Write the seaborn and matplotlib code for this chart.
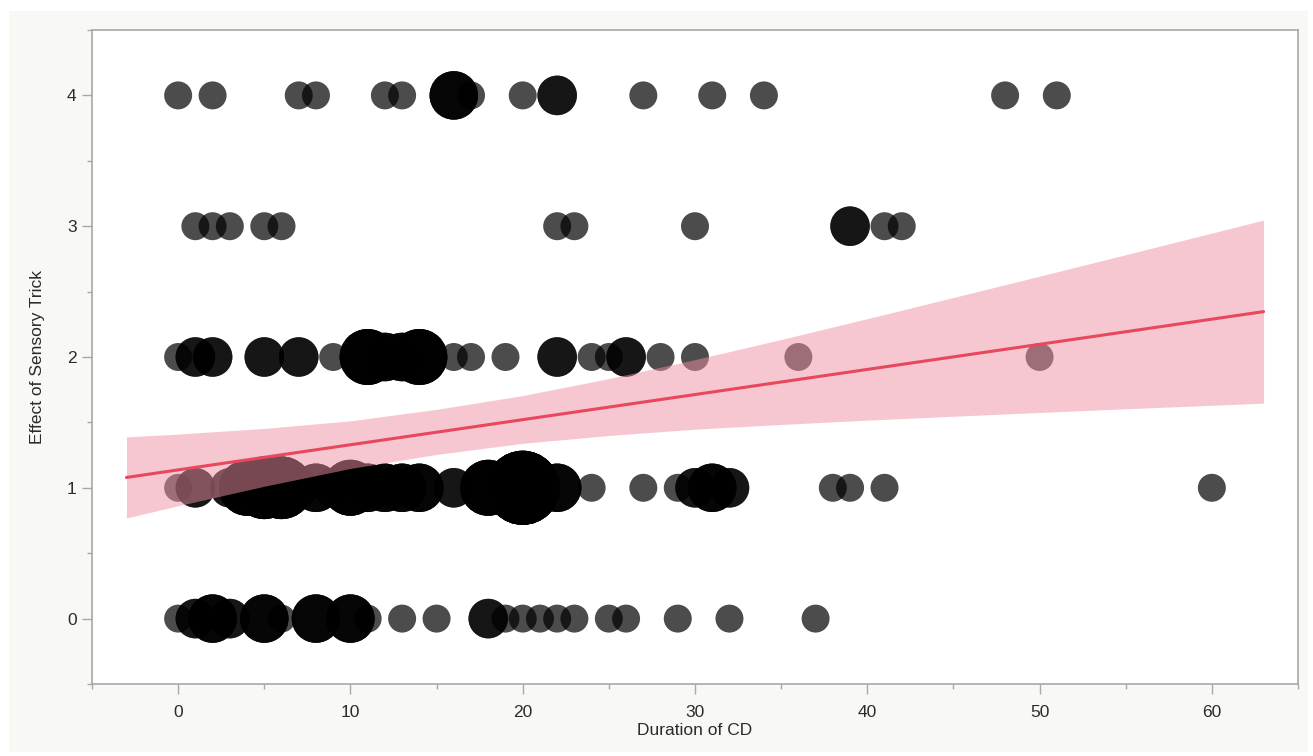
import numpy as np
import pandas as pd
import matplotlib
matplotlib.use("Agg")
import matplotlib.pyplot as plt
import seaborn as sns
from matplotlib.patches import Rectangle
from matplotlib.ticker import MultipleLocator

# bubble data: duration of CD, count of patients at that value, one list per trick level
dur_4 = [0, 2, 7, 8, 12, 13, 16, 17, 20, 22, 27, 31, 34, 48, 51]
cnt_4 = [1, 1, 1, 1, 1, 1, 3, 1, 1, 2, 1, 1, 1, 1, 1]

dur_3 = [1, 2, 3, 5, 6, 22, 23, 30, 39, 41, 42]
cnt_3 = [1, 1, 1, 1, 1, 1, 1, 1, 2, 1, 1]

dur_2 = [0, 1, 2, 5, 7, 9, 11, 12, 13, 14, 16, 17, 19, 22, 24, 25, 26, 28, 30, 36, 50]
cnt_2 = [1, 2, 2, 2, 2, 1, 4, 3, 3, 4, 1, 1, 1, 2, 1, 1, 2, 1, 1, 1, 1]

dur_1 = [0, 1, 3, 4, 5, 6, 7, 8, 9, 10, 11, 12, 13, 14, 16, 18, 20, 22, 24, 27,
         29, 30, 31, 32, 38, 39, 41, 60]
cnt_1 = [1, 2, 2, 4, 5, 5, 2, 3, 2, 4, 3, 3, 3, 3, 2, 4, 7, 3, 1, 1,
         1, 2, 3, 2, 1, 1, 1, 1]

dur_0 = [0, 1, 2, 3, 5, 6, 8, 10, 11, 13, 15, 18, 19, 20, 21, 22, 23, 25, 26, 29, 32, 37]
cnt_0 = [1, 2, 3, 2, 3, 1, 3, 3, 1, 1, 1, 2, 1, 1, 1, 1, 1, 1, 1, 1, 1, 1]

# fitted line and its confidence band
fit_x = [-3, 0, 5, 10, 15, 20, 25, 30, 35, 40, 45, 50, 55, 63]
fit_y = [1.079, 1.137, 1.233, 1.329, 1.425, 1.521, 1.617, 1.713, 1.809, 1.905,
         2.001, 2.097, 2.193, 2.347]
ci_hi = [1.389, 1.411, 1.454, 1.512, 1.600, 1.705, 1.835, 1.980, 2.134, 2.293,
         2.455, 2.618, 2.782, 3.047]
ci_lo = [0.769, 0.863, 1.012, 1.148, 1.255, 1.340, 1.400, 1.448, 1.484, 1.517,
         1.547, 1.576, 1.604, 1.647]

rows = []
for level, durs, cnts in [(4, dur_4, cnt_4), (3, dur_3, cnt_3), (2, dur_2, cnt_2),
                          (1, dur_1, cnt_1), (0, dur_0, cnt_0)]:
    for d, c in zip(durs, cnts):
        # one row per patient, so stacked bubbles get darker like the original
        for _ in range(c):
            rows.append({"Duration of CD": d, "Effect of Sensory Trick": level, "n": c})
df = pd.DataFrame(rows)

sns.set_style("white")
plt.rcParams["font.family"] = ["Liberation Sans", "DejaVu Sans"]

W, H = 1313, 756
fig = plt.figure(figsize=(W / 100, H / 100), dpi=100, facecolor="white")
# off-white report panel behind the plot
fig.patches.append(Rectangle((9 / W, 1 - 752 / H), (1308 - 9) / W, (752 - 11) / H,
                             transform=fig.transFigure, facecolor="#f8f8f4",
                             edgecolor="none", zorder=-10))
ax = fig.add_axes([92 / W, 1 - 684 / H, (1298 - 92) / W, (684 - 30) / H])
ax.set_facecolor("white")

s1 = 406  # marker area (pt^2) of a single patient
sns.scatterplot(data=df, x="Duration of CD", y="Effect of Sensory Trick", size="n",
                sizes=(s1, 7 * s1), size_norm=(1, 7), color="black", alpha=0.7,
                linewidth=0, legend=False, ax=ax, zorder=2)

ax.fill_between(fit_x, ci_lo, ci_hi, color="#ef91a5", alpha=0.5, linewidth=0, zorder=3)
ax.plot(fit_x, fit_y, color="#e8485c", linewidth=2.2, zorder=4)

ax.set_xlim(-5, 65)
ax.set_ylim(-0.5, 4.5)
ax.xaxis.set_major_locator(MultipleLocator(10))
ax.xaxis.set_minor_locator(MultipleLocator(5))
ax.yaxis.set_major_locator(MultipleLocator(1))
ax.yaxis.set_minor_locator(MultipleLocator(0.5))

for sp in ax.spines.values():
    sp.set_visible(True)
    sp.set_color("#a8a8a8")
    sp.set_linewidth(1.2)

ax.tick_params(which="major", direction="out", length=7, width=1, color="#a8a8a8",
               labelsize=12.5, labelcolor="#2b2b2b", pad=4,
               bottom=True, left=True, top=False, right=False)
ax.tick_params(axis="x", which="major", pad=8)
ax.tick_params(which="minor", direction="out", length=3.5, width=1, color="#a8a8a8",
               bottom=True, left=True, top=False, right=False)

ax.set_xlabel("Duration of CD", fontsize=12.5, color="#2b2b2b", labelpad=2)
ax.set_ylabel("Effect of Sensory Trick", fontsize=12.5, color="#2b2b2b", labelpad=16)

fig.savefig("out.png", dpi=100, facecolor=fig.get_facecolor())
